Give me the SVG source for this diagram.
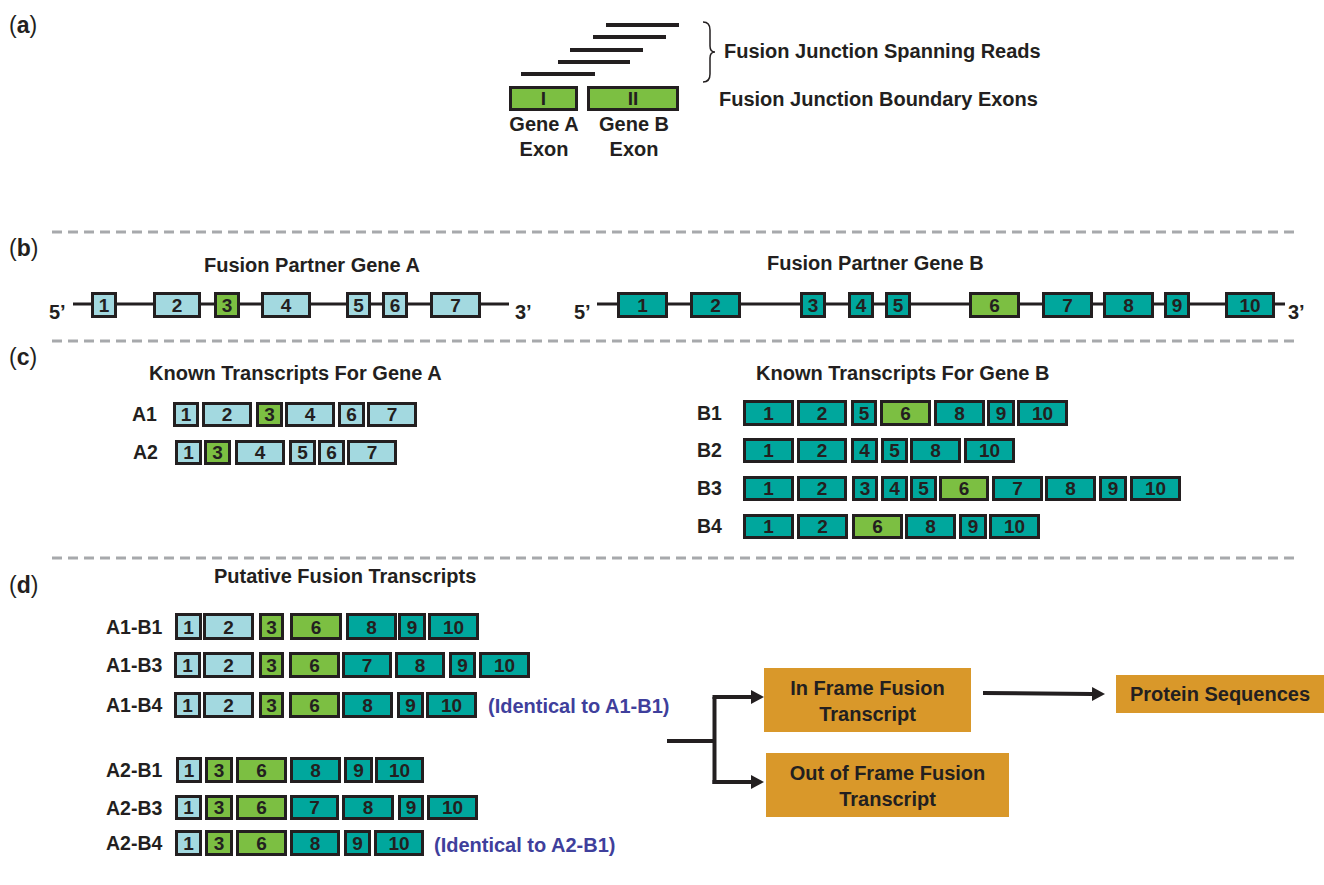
<svg xmlns="http://www.w3.org/2000/svg" width="1324" height="885" viewBox="0 0 1324 885">
<style>
text{font-family:"Liberation Sans",Arial,sans-serif;font-weight:bold;fill:#231f20}
.h{font-size:20px}
.lab{font-size:19.5px}
.n{font-size:19px;text-anchor:middle}
.c{text-anchor:middle}
.pl{font-size:23px;font-weight:normal}
.ex{stroke:#231f20;stroke-width:3}
.L{fill:#a3d9e0}
.T{fill:#00a79d}
.G{fill:#7cbf42}
.dash{stroke:#a7a9ac;stroke-width:3;stroke-dasharray:10 6;fill:none}
.gl{stroke:#231f20;stroke-width:3;fill:none}
.rd{stroke:#231f20;stroke-width:4}
.ob{fill:#d9982a}
.blue{fill:#3f3f9c;font-size:20px}
.con{stroke:#231f20;stroke-width:4;fill:none}
</style>
<defs>
<marker id="ah" markerUnits="userSpaceOnUse" markerWidth="13" markerHeight="14" viewBox="0 0 13 14" refX="0" refY="7" orient="auto">
<path d="M0,0 L13,7 L0,14 z" fill="#231f20"/>
</marker>
</defs>
<rect width="1324" height="885" fill="#ffffff"/>

<!-- panel labels -->
<g id="panel-labels">
<text class="pl" x="9" y="33">(<tspan font-weight="bold">a</tspan>)</text>
<text class="pl" x="9" y="256">(<tspan font-weight="bold">b</tspan>)</text>
<text class="pl" x="9" y="365">(<tspan font-weight="bold">c</tspan>)</text>
<text class="pl" x="9" y="593">(<tspan font-weight="bold">d</tspan>)</text>
</g>

<!-- separators -->
<g id="separators">
<line class="dash" x1="52" y1="232" x2="1296" y2="232"/>
<line class="dash" x1="52" y1="341" x2="1296" y2="341"/>
<line class="dash" x1="52" y1="558" x2="1296" y2="558"/>
</g>

<!-- panel a -->
<g id="reads">
<line class="rd" x1="606" y1="25" x2="679" y2="25"/>
<line class="rd" x1="593" y1="37" x2="666" y2="37"/>
<line class="rd" x1="570" y1="50" x2="643" y2="50"/>
<line class="rd" x1="558" y1="62" x2="630" y2="62"/>
<line class="rd" x1="521" y1="74" x2="595" y2="74"/>
<path d="M703,22 Q710,22 710,30 L710,46 Q710,52 715,52 Q710,52 710,58 L710,74 Q710,82 703,82" fill="none" stroke="#231f20" stroke-width="1.5"/>
<text class="h" x="724" y="58">Fusion Junction Spanning Reads</text>
</g>
<g id="boundary-exons">
<rect class="ex G" x="510.5" y="87.5" width="66" height="22"/>
<text class="n" x="543.5" y="105">I</text>
<rect class="ex G" x="588.5" y="87.5" width="89" height="22"/>
<text class="n" x="633" y="105">II</text>
<text class="h c" x="544" y="131">Gene A</text>
<text class="h c" x="544" y="156">Exon</text>
<text class="h c" x="634" y="131">Gene B</text>
<text class="h c" x="634" y="156">Exon</text>
<text class="h" x="719" y="106">Fusion Junction Boundary Exons</text>
</g>

<!-- panel b gene A -->
<g id="gene-A">
<text class="h" x="204" y="272">Fusion Partner Gene A</text>
<line class="gl" x1="73" y1="304" x2="509" y2="304"/>
<text class="h" x="49" y="319">5’</text>
<text class="h" x="515" y="319">3’</text>
<rect class="ex L" x="92.5" y="293.5" width="23" height="23"/><text class="n" x="104" y="312">1</text>
<rect class="ex L" x="154.5" y="293.5" width="45" height="23"/><text class="n" x="177" y="312">2</text>
<rect class="ex G" x="215.5" y="293.5" width="23" height="23"/><text class="n" x="227" y="312">3</text>
<rect class="ex L" x="262.5" y="293.5" width="47" height="23"/><text class="n" x="286" y="312">4</text>
<rect class="ex L" x="347.5" y="293.5" width="22" height="23"/><text class="n" x="358.5" y="312">5</text>
<rect class="ex L" x="383.5" y="293.5" width="23" height="23"/><text class="n" x="395" y="312">6</text>
<rect class="ex L" x="431.5" y="293.5" width="48" height="23"/><text class="n" x="455.5" y="312">7</text>
</g>

<!-- panel b gene B -->
<g id="gene-B">
<text class="h" x="767" y="270">Fusion Partner Gene B</text>
<line class="gl" x1="597" y1="304" x2="1285" y2="304"/>
<text class="h" x="574" y="319">5’</text>
<text class="h" x="1288" y="319">3’</text>
<rect class="ex T" x="618.5" y="293.5" width="48" height="23"/><text class="n" x="642.5" y="312">1</text>
<rect class="ex T" x="691.5" y="293.5" width="48" height="23"/><text class="n" x="715.5" y="312">2</text>
<rect class="ex T" x="801.5" y="293.5" width="23" height="23"/><text class="n" x="813" y="312">3</text>
<rect class="ex T" x="849.5" y="293.5" width="23" height="23"/><text class="n" x="861" y="312">4</text>
<rect class="ex T" x="886.5" y="293.5" width="23" height="23"/><text class="n" x="898" y="312">5</text>
<rect class="ex G" x="970.5" y="293.5" width="48" height="23"/><text class="n" x="994.5" y="312">6</text>
<rect class="ex T" x="1043.5" y="293.5" width="48" height="23"/><text class="n" x="1067.5" y="312">7</text>
<rect class="ex T" x="1104.5" y="293.5" width="48" height="23"/><text class="n" x="1128.5" y="312">8</text>
<rect class="ex T" x="1165.5" y="293.5" width="23" height="23"/><text class="n" x="1177" y="312">9</text>
<rect class="ex T" x="1226.5" y="293.5" width="47" height="23"/><text class="n" x="1250" y="312">10</text>
</g>

<!-- panel c -->
<g id="transcripts-A">
<text class="h" x="149" y="380">Known Transcripts For Gene A</text>
</g>
<g id="A1">
<text class="lab" x="132" y="421">A1</text>
<rect class="ex L" x="174.5" y="403.5" width="23" height="22"/><text class="n" x="186" y="421">1</text>
<rect class="ex L" x="203.5" y="403.5" width="47" height="22"/><text class="n" x="227" y="421">2</text>
<rect class="ex G" x="257.5" y="403.5" width="24" height="22"/><text class="n" x="269.5" y="421">3</text>
<rect class="ex L" x="286.5" y="403.5" width="47" height="22"/><text class="n" x="310" y="421">4</text>
<rect class="ex L" x="339.5" y="403.5" width="24" height="22"/><text class="n" x="351.5" y="421">6</text>
<rect class="ex L" x="368.5" y="403.5" width="47" height="22"/><text class="n" x="392" y="421">7</text>
</g>
<g id="A2">
<text class="lab" x="133" y="459">A2</text>
<rect class="ex L" x="176.5" y="441.5" width="24" height="22"/><text class="n" x="188.5" y="459">1</text>
<rect class="ex G" x="205.5" y="441.5" width="24" height="22"/><text class="n" x="217.5" y="459">3</text>
<rect class="ex L" x="236.5" y="441.5" width="47" height="22"/><text class="n" x="260" y="459">4</text>
<rect class="ex L" x="290.5" y="441.5" width="24" height="22"/><text class="n" x="302.5" y="459">5</text>
<rect class="ex L" x="319.5" y="441.5" width="24" height="22"/><text class="n" x="331.5" y="459">6</text>
<rect class="ex L" x="348.5" y="441.5" width="47" height="22"/><text class="n" x="372" y="459">7</text>
</g>

<g id="transcripts-B">
<text class="h" x="756" y="380">Known Transcripts For Gene B</text>
</g>
<g id="B1">
<text class="lab" x="697" y="420">B1</text>
<rect class="ex T" x="744.5" y="401.5" width="48" height="23"/><text class="n" x="768.5" y="420">1</text>
<rect class="ex T" x="798.5" y="401.5" width="47" height="23"/><text class="n" x="822" y="420">2</text>
<rect class="ex T" x="852.5" y="401.5" width="23" height="23"/><text class="n" x="864" y="420">5</text>
<rect class="ex G" x="881.5" y="401.5" width="48" height="23"/><text class="n" x="905.5" y="420">6</text>
<rect class="ex T" x="935.5" y="401.5" width="48" height="23"/><text class="n" x="959.5" y="420">8</text>
<rect class="ex T" x="988.5" y="401.5" width="25" height="23"/><text class="n" x="1001" y="420">9</text>
<rect class="ex T" x="1018.5" y="401.5" width="48" height="23"/><text class="n" x="1042.5" y="420">10</text>
</g>
<g id="B2">
<text class="lab" x="697" y="457">B2</text>
<rect class="ex T" x="744.5" y="439.5" width="48" height="22"/><text class="n" x="768.5" y="457">1</text>
<rect class="ex T" x="798.5" y="439.5" width="47" height="22"/><text class="n" x="822" y="457">2</text>
<rect class="ex T" x="852.5" y="439.5" width="24" height="22"/><text class="n" x="864.5" y="457">4</text>
<rect class="ex T" x="882.5" y="439.5" width="24" height="22"/><text class="n" x="894.5" y="457">5</text>
<rect class="ex T" x="911.5" y="439.5" width="48" height="22"/><text class="n" x="935.5" y="457">8</text>
<rect class="ex T" x="965.5" y="439.5" width="48" height="22"/><text class="n" x="989.5" y="457">10</text>
</g>
<g id="B3">
<text class="lab" x="697" y="495">B3</text>
<rect class="ex T" x="744.5" y="477.5" width="48" height="22"/><text class="n" x="768.5" y="495">1</text>
<rect class="ex T" x="798.5" y="477.5" width="47" height="22"/><text class="n" x="822" y="495">2</text>
<rect class="ex T" x="853.5" y="477.5" width="23" height="22"/><text class="n" x="865" y="495">3</text>
<rect class="ex T" x="882.5" y="477.5" width="24" height="22"/><text class="n" x="894.5" y="495">4</text>
<rect class="ex T" x="911.5" y="477.5" width="24" height="22"/><text class="n" x="923.5" y="495">5</text>
<rect class="ex G" x="940.5" y="477.5" width="47" height="22"/><text class="n" x="964" y="495">6</text>
<rect class="ex T" x="993.5" y="477.5" width="48" height="22"/><text class="n" x="1017.5" y="495">7</text>
<rect class="ex T" x="1046.5" y="477.5" width="48" height="22"/><text class="n" x="1070.5" y="495">8</text>
<rect class="ex T" x="1100.5" y="477.5" width="25" height="22"/><text class="n" x="1113" y="495">9</text>
<rect class="ex T" x="1131.5" y="477.5" width="48" height="22"/><text class="n" x="1155.5" y="495">10</text>
</g>
<g id="B4">
<text class="lab" x="697" y="533">B4</text>
<rect class="ex T" x="744.5" y="515.5" width="48" height="22"/><text class="n" x="768.5" y="533">1</text>
<rect class="ex T" x="798.5" y="515.5" width="48" height="22"/><text class="n" x="822.5" y="533">2</text>
<rect class="ex G" x="853.5" y="515.5" width="48" height="22"/><text class="n" x="877.5" y="533">6</text>
<rect class="ex T" x="906.5" y="515.5" width="48" height="22"/><text class="n" x="930.5" y="533">8</text>
<rect class="ex T" x="960.5" y="515.5" width="25" height="22"/><text class="n" x="973" y="533">9</text>
<rect class="ex T" x="990.5" y="515.5" width="48" height="22"/><text class="n" x="1014.5" y="533">10</text>
</g>

<!-- panel d -->
<g id="putative-title">
<text class="h" x="214" y="583">Putative Fusion Transcripts</text>
</g>
<g id="A1-B1">
<text class="lab" x="106" y="634">A1-B1</text>
<rect class="ex L" x="176.5" y="614.5" width="24" height="24"/><text class="n" x="188.5" y="634">1</text>
<rect class="ex L" x="204.5" y="614.5" width="48" height="24"/><text class="n" x="228.5" y="634">2</text>
<rect class="ex G" x="260.5" y="614.5" width="22" height="24"/><text class="n" x="271.5" y="634">3</text>
<rect class="ex G" x="291.5" y="614.5" width="49" height="24"/><text class="n" x="316" y="634">6</text>
<rect class="ex T" x="347.5" y="614.5" width="48" height="24"/><text class="n" x="371.5" y="634">8</text>
<rect class="ex T" x="399.5" y="614.5" width="25" height="24"/><text class="n" x="412" y="634">9</text>
<rect class="ex T" x="429.5" y="614.5" width="48" height="24"/><text class="n" x="453.5" y="634">10</text>
</g>
<g id="A1-B3">
<text class="lab" x="106" y="672">A1-B3</text>
<rect class="ex L" x="175.5" y="653.5" width="24" height="23"/><text class="n" x="187.5" y="672">1</text>
<rect class="ex L" x="204.5" y="653.5" width="48" height="23"/><text class="n" x="228.5" y="672">2</text>
<rect class="ex G" x="260.5" y="653.5" width="22" height="23"/><text class="n" x="271.5" y="672">3</text>
<rect class="ex G" x="290.5" y="653.5" width="48" height="23"/><text class="n" x="314.5" y="672">6</text>
<rect class="ex T" x="343.5" y="653.5" width="47" height="23"/><text class="n" x="367" y="672">7</text>
<rect class="ex T" x="396.5" y="653.5" width="47" height="23"/><text class="n" x="420" y="672">8</text>
<rect class="ex T" x="450.5" y="653.5" width="24" height="23"/><text class="n" x="462.5" y="672">9</text>
<rect class="ex T" x="480.5" y="653.5" width="48" height="23"/><text class="n" x="504.5" y="672">10</text>
</g>
<g id="A1-B4">
<text class="lab" x="106" y="712">A1-B4</text>
<rect class="ex L" x="175.5" y="693.5" width="24" height="23"/><text class="n" x="187.5" y="712">1</text>
<rect class="ex L" x="204.5" y="693.5" width="48" height="23"/><text class="n" x="228.5" y="712">2</text>
<rect class="ex G" x="260.5" y="693.5" width="22" height="23"/><text class="n" x="271.5" y="712">3</text>
<rect class="ex G" x="290.5" y="693.5" width="48" height="23"/><text class="n" x="314.5" y="712">6</text>
<rect class="ex T" x="343.5" y="693.5" width="48" height="23"/><text class="n" x="367.5" y="712">8</text>
<rect class="ex T" x="398.5" y="693.5" width="24" height="23"/><text class="n" x="410.5" y="712">9</text>
<rect class="ex T" x="427.5" y="693.5" width="48" height="23"/><text class="n" x="451.5" y="712">10</text>
<text class="blue" x="488" y="713">(Identical to A1-B1)</text>
</g>
<g id="A2-B1">
<text class="lab" x="106" y="777">A2-B1</text>
<rect class="ex L" x="177.5" y="758.5" width="23" height="23"/><text class="n" x="189" y="777">1</text>
<rect class="ex G" x="206.5" y="758.5" width="25" height="23"/><text class="n" x="219" y="777">3</text>
<rect class="ex G" x="237.5" y="758.5" width="48" height="23"/><text class="n" x="261.5" y="777">6</text>
<rect class="ex T" x="291.5" y="758.5" width="48" height="23"/><text class="n" x="315.5" y="777">8</text>
<rect class="ex T" x="345.5" y="758.5" width="26" height="23"/><text class="n" x="358.5" y="777">9</text>
<rect class="ex T" x="376.5" y="758.5" width="46" height="23"/><text class="n" x="399.5" y="777">10</text>
</g>
<g id="A2-B3">
<text class="lab" x="106" y="815">A2-B3</text>
<rect class="ex L" x="176.5" y="796.5" width="24" height="22"/><text class="n" x="188.5" y="814">1</text>
<rect class="ex G" x="206.5" y="796.5" width="25" height="22"/><text class="n" x="219" y="814">3</text>
<rect class="ex G" x="237.5" y="796.5" width="48" height="22"/><text class="n" x="261.5" y="814">6</text>
<rect class="ex T" x="291.5" y="796.5" width="46" height="22"/><text class="n" x="314.5" y="814">7</text>
<rect class="ex T" x="343.5" y="796.5" width="49" height="22"/><text class="n" x="368" y="814">8</text>
<rect class="ex T" x="399.5" y="796.5" width="23" height="22"/><text class="n" x="411" y="814">9</text>
<rect class="ex T" x="428.5" y="796.5" width="48" height="22"/><text class="n" x="452.5" y="814">10</text>
</g>
<g id="A2-B4">
<text class="lab" x="106" y="850">A2-B4</text>
<rect class="ex L" x="176.5" y="831.5" width="24" height="23"/><text class="n" x="188.5" y="850">1</text>
<rect class="ex G" x="206.5" y="831.5" width="25" height="23"/><text class="n" x="219" y="850">3</text>
<rect class="ex G" x="237.5" y="831.5" width="48" height="23"/><text class="n" x="261.5" y="850">6</text>
<rect class="ex T" x="291.5" y="831.5" width="47" height="23"/><text class="n" x="315" y="850">8</text>
<rect class="ex T" x="345.5" y="831.5" width="24" height="23"/><text class="n" x="357.5" y="850">9</text>
<rect class="ex T" x="375.5" y="831.5" width="47" height="23"/><text class="n" x="399" y="850">10</text>
<text class="blue" x="434" y="852">(Identical to A2-B1)</text>
</g>

<!-- outcome nodes -->
<g id="in-frame">
<rect class="ob" x="764" y="668" width="207" height="64"/>
<text class="h c" x="867.5" y="695">In Frame Fusion</text>
<text class="h c" x="867.5" y="721">Transcript</text>
</g>
<g id="out-of-frame">
<rect class="ob" x="766" y="753" width="243" height="64"/>
<text class="h c" x="887.5" y="780">Out of Frame Fusion</text>
<text class="h c" x="887.5" y="806">Transcript</text>
</g>
<g id="protein">
<rect class="ob" x="1116" y="675" width="208" height="38"/>
<text class="h c" x="1220" y="701">Protein Sequences</text>
</g>

<!-- connectors -->
<g id="connectors">
<path class="con" d="M667,741 H714.5"/>
<path class="con" d="M714.5,697 V784"/>
<path class="con" d="M712.5,697 H751" marker-end="url(#ah)"/>
<path class="con" d="M712.5,782 H751" marker-end="url(#ah)"/>
<path class="con" d="M983,693 L1092,694" marker-end="url(#ah)"/>
</g>
</svg>
